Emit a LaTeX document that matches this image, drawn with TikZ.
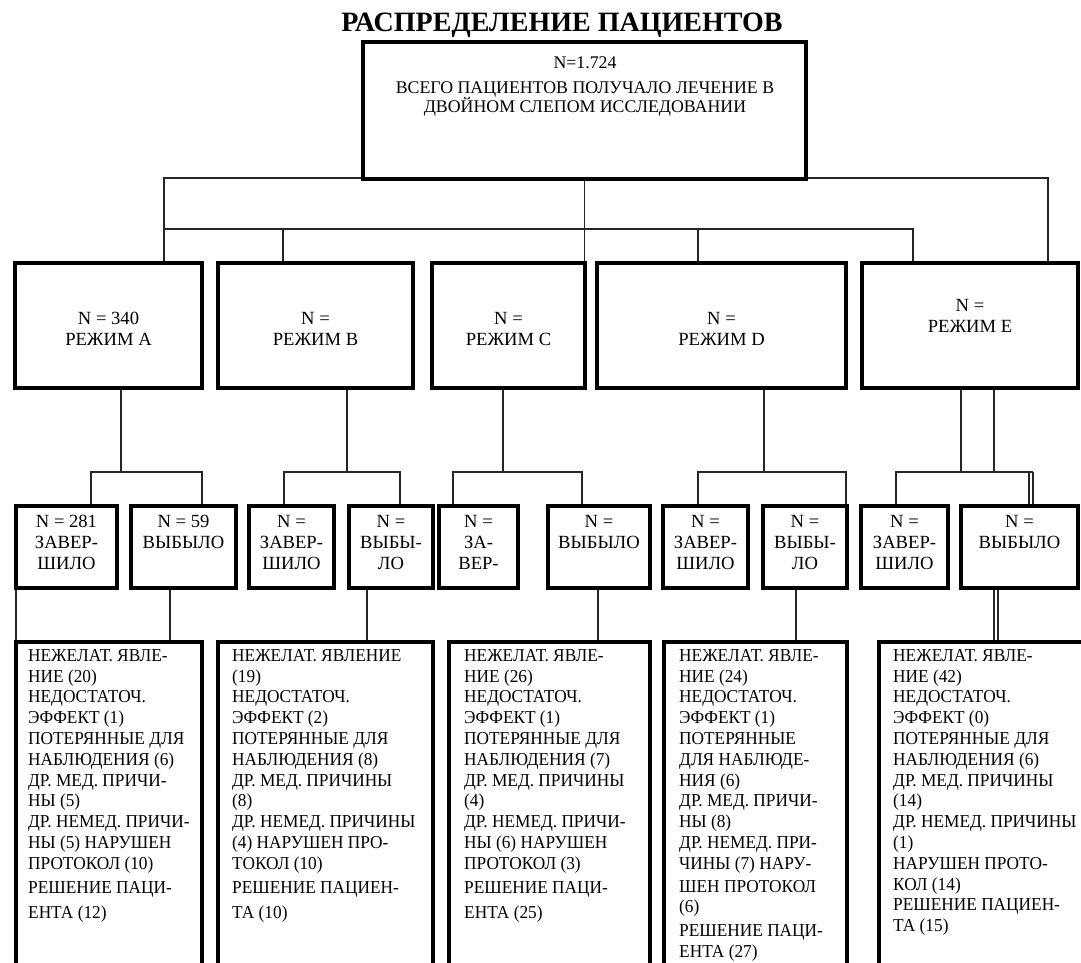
\documentclass[tikz,border=0pt]{standalone}
\usepackage{fontspec}
\setmainfont{Liberation Serif}
\newfontfamily\bodyfont{Liberation Serif}[FakeStretch=0.95]
\begin{document}
\begin{tikzpicture}[x=1pt,y=-1pt,
  conn/.style={draw=black!85, line width=1.3pt},
  bx/.style={inner sep=0pt, outer sep=0pt, anchor=north west},
  frame/.style={draw=black, line width=3.4pt, fill=white},
  ttl/.style={inner sep=0pt, font=\fontsize{28}{30}\selectfont\bfseries},
  lbl/.style={align=center, inner sep=0pt, font=\fontsize{18.6}{21}\selectfont},
  tlbl/.style={align=center, inner sep=0pt, font=\fontsize{17.8}{17.5}\selectfont},
  lst/.style={align=left, inner sep=0pt, anchor=north west, font=\bodyfont\fontsize{18.2}{20.8}\selectfont}]
\useasboundingbox (0,0) rectangle (1081,963);
\clip (0,0) rectangle (1081,963);

% ---------- coordinates for connectors ----------
\coordinate (h1L) at (164,178); \coordinate (h1R) at (1048,178);
\coordinate (h2L) at (164,229); \coordinate (h2R) at (913,229);
\coordinate (bB) at (283,229); \coordinate (bD) at (698,229);
\coordinate (jA) at (121,472); \coordinate (jAl) at (91,472); \coordinate (jAr) at (202,472);
\coordinate (jB) at (347,472); \coordinate (jBl) at (284,472); \coordinate (jBr) at (400,472);
\coordinate (jC) at (503,472); \coordinate (jCl) at (453,472); \coordinate (jCr) at (582,472);
\coordinate (jD) at (764,472); \coordinate (jDl) at (698,472); \coordinate (jDr) at (846,472);
\coordinate (jE1) at (961,472); \coordinate (jE2) at (994,472);
\coordinate (jEl) at (896,472); \coordinate (jEr) at (1029,472); \coordinate (jEr2) at (1033,472);
\coordinate (kA) at (170,615); \coordinate (kB) at (367,615); \coordinate (kC) at (598,615);
\coordinate (kD) at (796,615); \coordinate (kE1) at (994,615); \coordinate (kE2) at (998,615);

% ---------- box shapes (framed after the connectors) ----------
\path
  node[bx, minimum width=443pt, minimum height=137pt] (top) at (363,42) {}
  node[bx, minimum width=187pt, minimum height=125pt] (regA) at (15,263) {}
  node[bx, minimum width=195pt, minimum height=125pt] (regB) at (218,263) {}
  node[bx, minimum width=153pt, minimum height=125pt] (regC) at (432,263) {}
  node[bx, minimum width=249pt, minimum height=125pt] (regD) at (597,263) {}
  node[bx, minimum width=216pt, minimum height=125pt] (regE) at (862,263) {}
  node[bx, minimum width=101pt, minimum height=82pt] (subA1) at (16,506) {}
  node[bx, minimum width=105pt, minimum height=82pt] (subA2) at (131,506) {}
  node[bx, minimum width=85pt, minimum height=82pt] (subB1) at (249,506) {}
  node[bx, minimum width=84pt, minimum height=82pt] (subB2) at (349,506) {}
  node[bx, minimum width=79pt, minimum height=82pt] (subC1) at (439,506) {}
  node[bx, minimum width=102pt, minimum height=82pt] (subC2) at (548,506) {}
  node[bx, minimum width=85pt, minimum height=82pt] (subD1) at (663,506) {}
  node[bx, minimum width=84pt, minimum height=82pt] (subD2) at (763,506) {}
  node[bx, minimum width=87pt, minimum height=82pt] (subE1) at (861,506) {}
  node[bx, minimum width=117pt, minimum height=82pt] (subE2) at (961,506) {}
  node[bx, minimum width=186pt, minimum height=340pt] (botA) at (16,642) {}
  node[bx, minimum width=215pt, minimum height=340pt] (botB) at (218,642) {}
  node[bx, minimum width=201pt, minimum height=340pt] (botC) at (449,642) {}
  node[bx, minimum width=183pt, minimum height=340pt] (botD) at (664,642) {}
  node[bx, minimum width=215pt, minimum height=340pt] (botE) at (879,642) {};

% ---------- connectors ----------
\draw[conn] (regA.north -| h1L) -- (h1L) -- (h1R) -- (regE.north -| h1R);
\draw[conn] (top.south) -- (top.south |- regC.north);
\draw[conn] (h2L) -- (h2R) -- (regE.north -| h2R);
\draw[conn] (bB) -- (regB.north -| bB);
\draw[conn] (bD) -- (regD.north -| bD);

\draw[conn] (regA.south -| jA) -- (jA);
\draw[conn] (subA1.north -| jAl) -- (jAl) -- (jAr) -- (subA2.north -| jAr);
\draw[conn] (regB.south -| jB) -- (jB);
\draw[conn] (subB1.north -| jBl) -- (jBl) -- (jBr) -- (subB2.north -| jBr);
\draw[conn] (regC.south -| jC) -- (jC);
\draw[conn] (subC1.north -| jCl) -- (jCl) -- (jCr) -- (subC2.north -| jCr);
\draw[conn] (regD.south -| jD) -- (jD);
\draw[conn] (subD1.north -| jDl) -- (jDl) -- (jDr) -- (subD2.north -| jDr);
\draw[conn] (regE.south -| jE1) -- (jE1);
\draw[conn] (regE.south -| jE2) -- (jE2);
\draw[conn] (subE1.north -| jEl) -- (jEl) -- (jEr2);
\draw[conn] (jEr) -- (subE2.north -| jEr);
\draw[conn] (jEr2) -- (subE2.north -| jEr2);

\draw[conn] (subA1.south west) -- (botA.north west);
\draw[conn] (subA2.south -| kA) -- (botA.north -| kA);
\draw[conn] (subB2.south -| kB) -- (botB.north -| kB);
\draw[conn] (subC2.south -| kC) -- (botC.north -| kC);
\draw[conn] (subD2.south -| kD) -- (botD.north -| kD);
\draw[conn] (subE2.south -| kE1) -- (botE.north -| kE1);
\draw[conn] (subE2.south -| kE2) -- (botE.north -| kE2);

% ---------- box frames drawn on top ----------
\foreach \b in {top,regA,regB,regC,regD,regE,subA1,subA2,subB1,subB2,subC1,subC2,subD1,subD2,subE1,subE2,botA,botB,botC,botD,botE}
  \draw[frame] (\b.north west) rectangle (\b.south east);

% ---------- texts ----------
\node[ttl] (title) at (562,25) {РАСПРЕДЕЛЕНИЕ ПАЦИЕНТОВ};
\node[tlbl] (topN) at (585,63) {N=1.724};
\node[tlbl] (topT) at (585,99) {ВСЕГО ПАЦИЕНТОВ ПОЛУЧАЛО ЛЕЧЕНИЕ В\\ДВОЙНОМ СЛЕПОМ ИССЛЕДОВАНИИ};

\node[lbl] (regAt) at (108.5,329) {N = 340\\РЕЖИМ A};
\node[lbl] (regBt) at (315.5,329) {N =\\РЕЖИМ B};
\node[lbl] (regCt) at (508.5,329) {N =\\РЕЖИМ C};
\node[lbl] (regDt) at (721.5,329) {N =\\РЕЖИМ D};
\node[lbl] (regEt) at (970,316) {N =\\РЕЖИМ E};

\node[lbl, anchor=north] (subA1t) at (subA1.north |- 0,515) {N = 281\\ЗАВЕР-\\ШИЛО};
\node[lbl, anchor=north] (subA2t) at (subA2.north |- 0,515) {N = 59\\ВЫБЫЛО};
\node[lbl, anchor=north] (subB1t) at (subB1.north |- 0,515) {N =\\ЗАВЕР-\\ШИЛО};
\node[lbl, anchor=north] (subB2t) at (subB2.north |- 0,515) {N =\\ВЫБЫ-\\ЛО};
\node[lbl, anchor=north] (subC1t) at (subC1.north |- 0,515) {N =\\ЗА-\\ВЕР-};
\node[lbl, anchor=north] (subC2t) at (subC2.north |- 0,515) {N =\\ВЫБЫЛО};
\node[lbl, anchor=north] (subD1t) at (subD1.north |- 0,515) {N =\\ЗАВЕР-\\ШИЛО};
\node[lbl, anchor=north] (subD2t) at (subD2.north |- 0,515) {N =\\ВЫБЫ-\\ЛО};
\node[lbl, anchor=north] (subE1t) at (subE1.north |- 0,515) {N =\\ЗАВЕР-\\ШИЛО};
\node[lbl, anchor=north] (subE2t) at (subE2.north |- 0,515) {N =\\ВЫБЫЛО};

\node[lst] (botAt) at (28,649) {НЕЖЕЛАТ. ЯВЛЕ-\\НИЕ (20)\\НЕДОСТАТОЧ.\\ЭФФЕКТ (1)\\ПОТЕРЯННЫЕ ДЛЯ\\НАБЛЮДЕНИЯ (6)\\ДР. МЕД. ПРИЧИ-\\НЫ (5)\\ДР. НЕМЕД. ПРИЧИ-\\НЫ (5) НАРУШЕН\\ПРОТОКОЛ (10)\\[3pt]РЕШЕНИЕ ПАЦИ-\\[5pt]ЕНТА (12)};
\node[lst] (botBt) at (232,649) {НЕЖЕЛАТ. ЯВЛЕНИЕ\\(19)\\НЕДОСТАТОЧ.\\ЭФФЕКТ (2)\\ПОТЕРЯННЫЕ ДЛЯ\\НАБЛЮДЕНИЯ (8)\\ДР. МЕД. ПРИЧИНЫ\\(8)\\ДР. НЕМЕД. ПРИЧИНЫ\\(4) НАРУШЕН ПРО-\\ТОКОЛ (10)\\[3pt]РЕШЕНИЕ ПАЦИЕН-\\[5pt]ТА (10)};
\node[lst] (botCt) at (464,649) {НЕЖЕЛАТ. ЯВЛЕ-\\НИЕ (26)\\НЕДОСТАТОЧ.\\ЭФФЕКТ (1)\\ПОТЕРЯННЫЕ ДЛЯ\\НАБЛЮДЕНИЯ (7)\\ДР. МЕД. ПРИЧИНЫ\\(4)\\ДР. НЕМЕД. ПРИЧИ-\\НЫ (6) НАРУШЕН\\ПРОТОКОЛ (3)\\[3pt]РЕШЕНИЕ ПАЦИ-\\[5pt]ЕНТА (25)};
\node[lst] (botDt) at (679,649) {НЕЖЕЛАТ. ЯВЛЕ-\\НИЕ (24)\\НЕДОСТАТОЧ.\\ЭФФЕКТ (1)\\ПОТЕРЯННЫЕ\\ДЛЯ НАБЛЮДЕ-\\НИЯ (6)\\ДР. МЕД. ПРИЧИ-\\НЫ (8)\\ДР. НЕМЕД. ПРИ-\\ЧИНЫ (7) НАРУ-\\[2pt]ШЕН ПРОТОКОЛ\\(6)\\[3pt]РЕШЕНИЕ ПАЦИ-\\ЕНТА (27)};
\node[lst] (botEt) at (893,649) {НЕЖЕЛАТ. ЯВЛЕ-\\НИЕ (42)\\НЕДОСТАТОЧ.\\ЭФФЕКТ (0)\\ПОТЕРЯННЫЕ ДЛЯ\\НАБЛЮДЕНИЯ (6)\\ДР. МЕД. ПРИЧИНЫ\\(14)\\ДР. НЕМЕД. ПРИЧИНЫ\\(1)\\НАРУШЕН ПРОТО-\\КОЛ (14)\\РЕШЕНИЕ ПАЦИЕН-\\ТА (15)};
\end{tikzpicture}
\end{document}
